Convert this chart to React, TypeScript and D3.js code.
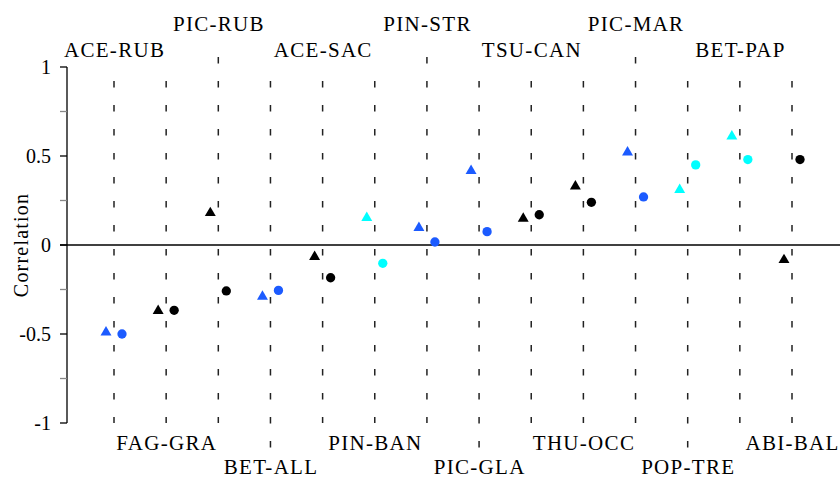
import React from "react";
import * as d3 from "d3";

const categories = ["ACE-RUB","FAG-GRA","PIC-RUB","BET-ALL","ACE-SAC","PIN-BAN","PIN-STR","PIC-GLA","TSU-CAN","THU-OCC","PIC-MAR","POP-TRE","BET-PAP","ABI-BAL"];
const triangleValues = [-0.49,-0.37,0.18,-0.29,-0.066,0.153,0.097,0.417,0.148,0.33,0.52,0.31,0.61,-0.084];
const circleValues = [-0.5,-0.367,-0.258,-0.255,-0.184,-0.103,0.017,0.075,0.17,0.24,0.27,0.45,0.48,0.48];
const groups = ["blue","black","black","blue","black","cyan","blue","blue","black","black","blue","cyan","cyan","black"];
// label placement: 0 top-high, 1 top-low, 2 bottom-high, 3 bottom-low
const labelSlots = [1,2,0,3,1,2,0,3,1,2,0,3,1,2];
const majorTicks = [-1,-0.5,0,0.5,1];
const minorTicks = [-0.75,-0.25,0.25,0.75];
const tickLabels = ["-1","-0.5","0","0.5","1"];

const W = 840, H = 479;
const colorMap: Record<string,string> = { blue: "#1c5bff", black: "#000000", cyan: "#00ffff" };
const font = "'Liberation Serif', 'Times New Roman', serif";

export default function App() {
  const x = d3.scalePoint<string>().domain(categories).range([114, 792]);
  const y = d3.scaleLinear().domain([-1, 1]).range([423, 67]);
  const tri = d3.symbol().type(d3.symbolTriangle).size(52)()!;
  const circ = d3.symbol().type(d3.symbolCircle).size(68)()!;
  const labelY = [31, 57, 450, 474];
  const lineTop = (s: number) => (s === 0 ? 57 : 81);
  const lineBot = (s: number) => (s === 3 ? 448 : 423);

  return (
    <svg width={W} height={H} style={{ position: "absolute", left: 0, top: 0, display: "block", background: "#fff" }}>
      {categories.map((c, i) => (
        <line key={"d" + c} x1={x(c)} x2={x(c)} y1={lineTop(labelSlots[i])} y2={lineBot(labelSlots[i])}
          stroke="#222" strokeWidth={1.5} strokeDasharray="6.5 17.5" />
      ))}
      <line x1={60} x2={W} y1={y(0)} y2={y(0)} stroke="#000" strokeWidth={1.3} />
      <line x1={67} x2={67} y1={y(1)} y2={y(-1)} stroke="#000" strokeWidth={1.3} />
      {majorTicks.map((t, i) => (
        <g key={"t" + t}>
          <line x1={60} x2={67} y1={y(t)} y2={y(t)} stroke="#000" strokeWidth={1.3} />
          <text x={51} y={y(t)} dy="0.35em" textAnchor="end" fontFamily={font} fontSize={20}>{tickLabels[i]}</text>
        </g>
      ))}
      {minorTicks.map((t) => (
        <line key={"m" + t} x1={60} x2={67} y1={y(t)} y2={y(t)} stroke="#888" strokeWidth={1.3} />
      ))}
      <text transform={`translate(28,${y(0)}) rotate(-90)`} textAnchor="middle" fontFamily={font} fontSize={20} letterSpacing={1.2}>Correlation</text>
      {categories.map((c, i) => (
        <text key={"l" + c} x={(x(c) as number) + 0.6} y={labelY[labelSlots[i]]} textAnchor="middle" fontFamily={font} fontSize={21} letterSpacing={1.3}>{c}</text>
      ))}
      {categories.map((c, i) => (
        <path key={"tr" + c} d={tri} transform={`translate(${(x(c) as number) - 8},${y(triangleValues[i])})`} fill={colorMap[groups[i]]} />
      ))}
      {categories.map((c, i) => (
        <path key={"ci" + c} d={circ} transform={`translate(${(x(c) as number) + 8},${y(circleValues[i])})`} fill={colorMap[groups[i]]} />
      ))}
    </svg>
  );
}
